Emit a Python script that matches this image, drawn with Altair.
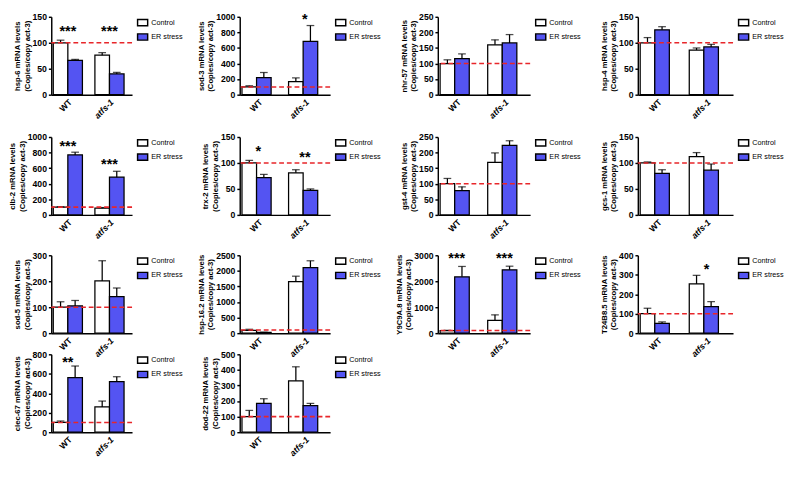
import altair as alt
import pandas as pd

genes = ["hsp-6", "sod-3", "nhr-57", "hsp-4", "clb-2", "trx-2", "gst-4", "gcs-1",
         "sod-5", "hsp-16.2", "Y9C9A.8", "T24B8.5", "clec-67", "dod-22"]
genotypes = ["WT", "atfs-1"]
conditions = ["Control", "ER stress"]

wt_control = [100, 100, 100, 100, 100, 100, 100, 100, 100, 90, 100, 100, 100, 100]
wt_control_err = [5, 15, 12, 10, 5, 5, 17, 2, 21, 35, 10, 28, 15, 40]
wt_er = [66, 220, 116, 125, 770, 72, 78, 80, 105, 25, 2170, 50, 560, 185]
wt_er_err = [2, 65, 15, 6, 35, 6, 12, 7, 21, 5, 400, 8, 120, 30]
atfs_control = [76, 168, 160, 86, 86, 81, 169, 112, 201, 1653, 490, 253, 260, 330]
atfs_control_err = [5, 48, 16, 4, 8, 6, 30, 8, 78, 176, 215, 44, 60, 90]
atfs_er = [40, 686, 166, 92, 485, 47, 223, 86, 141, 2107, 2440, 137, 520, 170]
atfs_er_err = [3, 202, 27, 5, 75, 3, 15, 12, 33, 217, 140, 25, 50, 15]

y_max = [150, 1000, 250, 150, 1000, 150, 250, 150, 300, 2500, 3000, 400, 800, 500]
y_step = [50, 200, 50, 50, 200, 50, 50, 50, 100, 500, 1000, 100, 200, 100]

stars_wt = ["***", "", "", "", "***", "*", "", "", "", "", "***", "", "**", ""]
stars_wt_y = [122, 0, 0, 0, 880, 123, 0, 0, 0, 0, 2900, 0, 720, 0]
stars_atfs = ["***", "*", "", "", "***", "**", "", "", "", "", "***", "*", "", ""]
stars_atfs_y = [122, 965, 0, 0, 655, 112, 0, 0, 0, 0, 2900, 330, 0, 0]

col_widths = [84, 94, 96, 99]

BLUE = "#5454F2"
FONT = "Liberation Sans"


def make_panel(i):
    g = genes[i]
    df = pd.DataFrame({
        "genotype": ["WT", "WT", "atfs-1", "atfs-1"],
        "condition": ["Control", "ER stress", "Control", "ER stress"],
        "value": [wt_control[i], wt_er[i], atfs_control[i], atfs_er[i]],
        "err": [wt_control_err[i], wt_er_err[i], atfs_control_err[i], atfs_er_err[i]],
    })
    df["top"] = df["value"] + df["err"]

    x = alt.X("genotype:N", sort=genotypes,
              scale=alt.Scale(paddingInner=0.3, paddingOuter=0.12, align=0.2),
              axis=alt.Axis(title=None, labelAngle=-45, ticks=False, labelPadding=3,
                            labelFontStyle={"condition": {"test": "datum.value == 'atfs-1'",
                                                          "value": "italic"},
                                            "value": "normal"}))
    xo = alt.XOffset("condition:N", sort=conditions,
                     scale=alt.Scale(paddingInner=0, paddingOuter=0))
    yscale = alt.Scale(domain=[0, y_max[i]], nice=False)
    yaxis = alt.Axis(values=list(range(0, y_max[i] + 1, y_step[i])), format="d",
                     title=[f"{g} mRNA levels", "(Copies/copy act-3)"])

    def ydef(field):
        return alt.Y(field, type="quantitative", scale=yscale, axis=yaxis)

    base = alt.Chart(df)
    bars = base.mark_bar(stroke="black", strokeWidth=1.3).encode(
        x=x, xOffset=xo, y=ydef("value"),
        fill=alt.Fill("condition:N", sort=conditions,
                      scale=alt.Scale(domain=conditions, range=["white", BLUE]),
                      legend=alt.Legend(title=None, orient="right", offset=5,
                                        symbolType="M-1,-0.62H1V0.62H-1Z", symbolSize=110,
                                        symbolStrokeColor="black", symbolStrokeWidth=1.5,
                                        labelFontSize=7.5, labelFont=FONT, labelColor="black",
                                        rowPadding=1, padding=0, labelOffset=3)),
    )
    errs = base.mark_rule(color="black", strokeWidth=1.3).encode(
        x=x, xOffset=xo, y=ydef("value"), y2="top:Q")
    caps = base.mark_tick(color="black", thickness=1.3, size=8).encode(
        x=x, xOffset=xo, y=ydef("top"))
    ref = alt.Chart(pd.DataFrame({"ref": [100]})).mark_rule(
        color="#E8262A", strokeDash=[5, 3], strokeWidth=1.6).encode(y=ydef("ref"))

    layers = [bars, errs, caps, ref]
    sdf = pd.DataFrame({
        "genotype": ["WT", "atfs-1"],
        "label": [stars_wt[i], stars_atfs[i]],
        "sy": [stars_wt_y[i], stars_atfs_y[i]],
    })
    sdf = sdf[sdf["label"] != ""]
    if len(sdf):
        stars = alt.Chart(sdf).mark_text(fontSize=15, fontWeight="bold", font=FONT,
                                         baseline="middle", color="black").encode(
            x=x, y=ydef("sy"), text="label:N")
        layers.append(stars)
    return alt.layer(*layers).properties(width=col_widths[i % 4], height=81)


def indep(c):
    return c.resolve_scale(fill="independent", x="independent", y="independent"
                           ).resolve_legend(fill="independent")


panels = [make_panel(i) for i in range(len(genes))]
rows = [indep(alt.hconcat(*panels[r * 4:r * 4 + 4], spacing=112, bounds="flush"))
        for r in range(4)]

middle = indep(alt.vconcat(rows[1], rows[2], spacing=10))
upper = indep(alt.vconcat(rows[0], middle, spacing=13))
chart = indep(alt.vconcat(upper, rows[3], spacing=351, bounds="flush")).configure(
    padding={"left": 0, "top": -5, "right": 0, "bottom": 0}
).configure_view(stroke=None).configure_legend(labelColor="black").configure_axis(
    labelFont=FONT, titleFont=FONT, labelFontSize=9, titleFontSize=8,
    labelFontWeight="bold", titleFontWeight="bold", labelColor="black",
    titleColor="black", domainColor="black", domainWidth=1.5, tickColor="black",
    tickWidth=1.5, tickSize=3, grid=False, titlePadding=1, labelPadding=2,
    titleLineHeight=10
)

chart.save("out.html", embed_options={"renderer": "svg", "actions": False})
